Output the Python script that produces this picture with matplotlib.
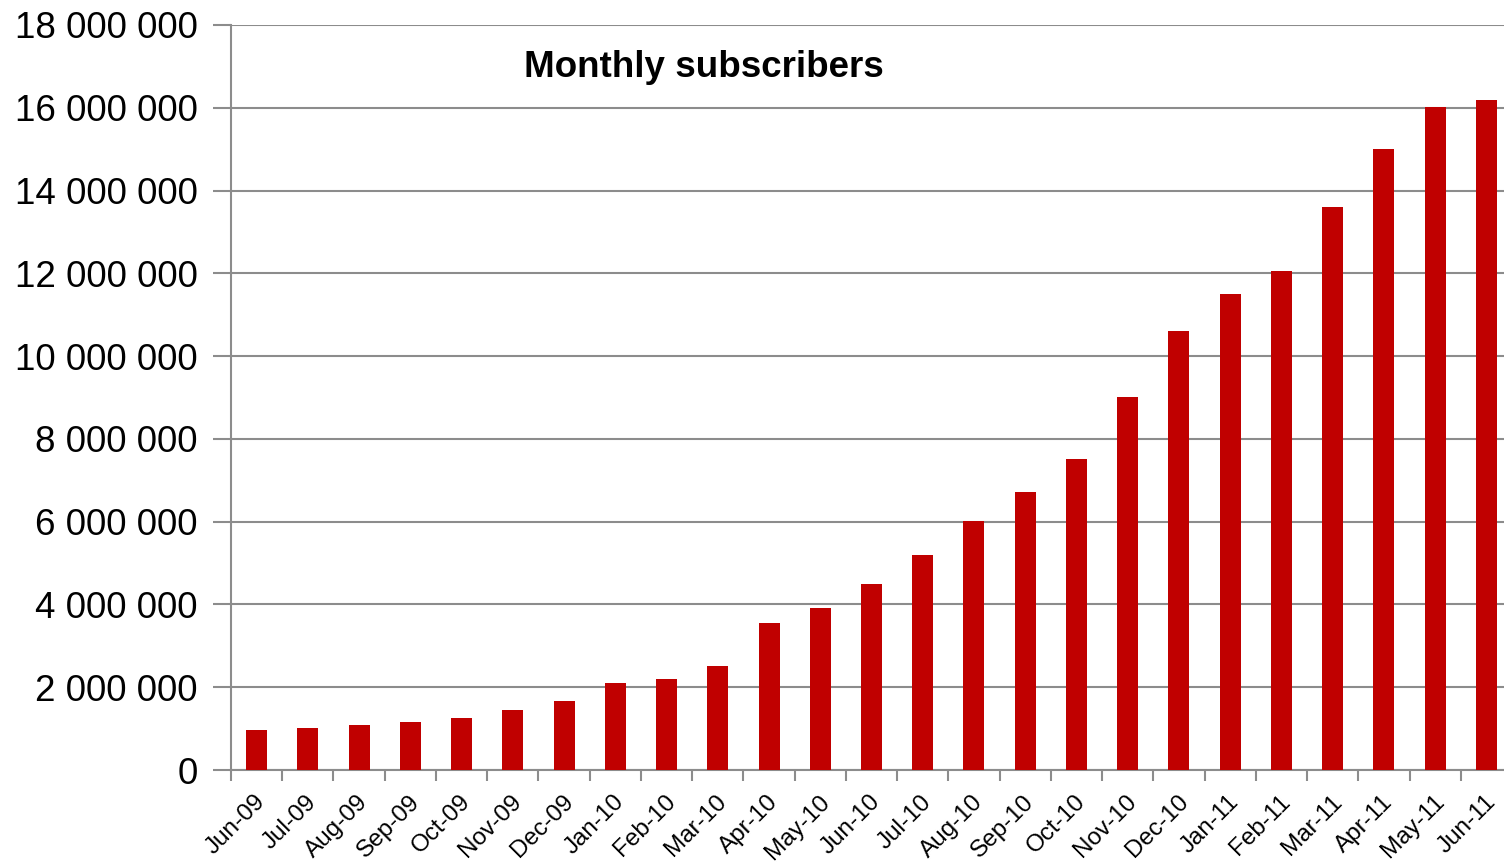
import numpy as np
import matplotlib.pyplot as plt
import matplotlib.transforms as mtransforms
from matplotlib.ticker import FuncFormatter, FixedLocator

plt.rcParams['font.family'] = ['Liberation Sans', 'DejaVu Sans']

months = ["Jun-09", "Jul-09", "Aug-09", "Sep-09", "Oct-09", "Nov-09", "Dec-09",
          "Jan-10", "Feb-10", "Mar-10", "Apr-10", "May-10", "Jun-10", "Jul-10",
          "Aug-10", "Sep-10", "Oct-10", "Nov-10", "Dec-10", "Jan-11", "Feb-11",
          "Mar-11", "Apr-11", "May-11", "Jun-11"]
subscribers = [970000, 1010000, 1090000, 1160000, 1260000, 1450000, 1670000,
               2100000, 2200000, 2510000, 3550000, 3910000, 4490000, 5190000,
               6020000, 6720000, 7510000, 9010000, 10610000, 11500000, 12060000,
               13600000, 15000000, 16020000, 16190000]

fig = plt.figure(figsize=(15.04, 8.64), dpi=100)
ax = fig.add_axes([231 / 1504, 94 / 864, (1512 - 231) / 1504, 745 / 864])

x = np.arange(len(months))
ax.bar(x, subscribers, width=0.41, color="#C00000", zorder=3)

ax.set_xlim(-0.5, len(months) - 0.5)
ax.set_ylim(0, 18000000)
ax.set_yticks(np.arange(0, 18000001, 2000000))
ax.yaxis.set_major_formatter(FuncFormatter(lambda v, p: f"{int(v):,}".replace(",", " ")))
ax.grid(axis="y", color="#8c8c8c", linewidth=1.5, zorder=0)

# labels at bar centres, tick marks between categories
ax.set_xticks(x)
ax.set_xticklabels(months, rotation=45, ha="right", rotation_mode="anchor", fontsize=17.5)
ax.tick_params(axis="x", which="major", length=0, pad=15)
ax.xaxis.set_minor_locator(FixedLocator(np.arange(-0.5, len(months), 1.0)))
ax.tick_params(axis="x", which="minor", length=8, width=1.5, color="#8c8c8c")
shift = mtransforms.ScaledTranslation(-2 / 100, 0, fig.dpi_scale_trans)
for lbl in ax.get_xticklabels():
    lbl.set_transform(lbl.get_transform() + shift)
ax.tick_params(axis="y", length=13, width=1.5, color="#8c8c8c", labelsize=26.5, pad=11)

for s in ["top", "right"]:
    ax.spines[s].set_visible(False)
for s in ["left", "bottom"]:
    ax.spines[s].set_color("#8c8c8c")
    ax.spines[s].set_linewidth(1.5)

ax.text(0.369, 0.943, "Monthly subscribers", transform=ax.transAxes,
        fontsize=26.5, fontweight="bold", ha="center", va="center")

fig.savefig("out.png", dpi=100)
